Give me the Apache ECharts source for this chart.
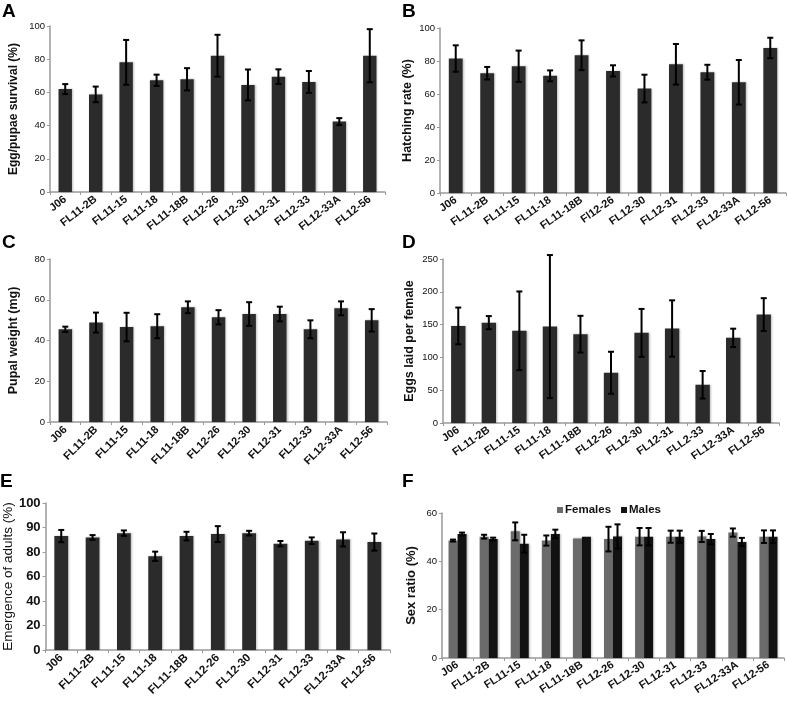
<!DOCTYPE html>
<html><head><meta charset="utf-8">
<script src="https://cdn.jsdelivr.net/npm/echarts@6/dist/echarts.min.js"></script>
<style>html,body{margin:0;padding:0;background:#fff}#c{width:787px;height:709px}</style>
</head><body><div id="c"></div>
<script>
const catsStd = ['J06','FL11-2B','FL11-15','FL11-18','FL11-18B','FL12-26','FL12-30','FL12-31','FL12-33','FL12-33A','FL12-56'];
const catsB = ['J06','FL11-2B','FL11-15','FL11-18','FL11-18B','Fl12-26','FL12-30','FL12-31','FL12-33','FL12-33A','FL12-56'];
const catsD = ['J06','FL11-2B','FL11-15','FL11-18','FL11-18B','FL12-26','FL12-30','FL12-31','FLL2-33','FL12-33A','FL12-56'];

const survMean = [62, 58.8, 78.1, 67.3, 67.9, 82.1, 64.5, 69.5, 66.3, 42.4, 82.1];
const survErr  = [3, 4.7, 13.5, 3.4, 6.7, 12.6, 9.3, 4.4, 6.6, 2.1, 16];
const hatchMean = [81.5, 72.6, 76.8, 71, 83.5, 74, 63.3, 78, 73.2, 67.1, 87.9];
const hatchErr  = [8, 3.8, 9.5, 3.3, 9, 3.4, 8.4, 12.3, 4.5, 13.5, 6.2];
const weightMean = [45.5, 48.8, 46.6, 47, 56.3, 51.4, 53, 53, 45.5, 55.8, 49.9];
const weightErr  = [1.3, 4.9, 7, 5.9, 2.9, 3.5, 5.8, 3.6, 4.4, 3.4, 5.5];
const eggsMean = [148, 153, 140.5, 147, 135.4, 76.6, 137.4, 144, 58.3, 129.8, 165.3];
const eggsErr  = [28, 10, 60, 109, 28, 32, 36.5, 43, 21, 14, 25];
const emergMean = [93, 91.9, 95.4, 76.5, 93, 94.6, 95.4, 86.8, 89.2, 90.3, 88.1];
const emergErr  = [5, 1.9, 2.2, 3.8, 3.5, 6.5, 1.9, 2.2, 2.7, 5.8, 7];
const emergTickLabels = ['0','20','40','60','80','90','100'];
const femMean = [48.6, 50.2, 52.4, 48.6, 49.5, 49.2, 50.2, 50.2, 50.3, 51.9, 50.2];
const femErr  = [0.4, 0.8, 3.7, 2.1, 0, 5.1, 3.6, 2.5, 2.3, 1.7, 2.6];
const maleMean = [51.3, 49.2, 47.3, 51.3, 50.2, 50.3, 50.2, 50.2, 49.2, 48, 50.2];
const maleErr  = [0.6, 0.6, 3.7, 1.8, 0, 5, 3.6, 2.5, 2.1, 1.7, 2.6];

const FONT = '"Liberation Sans", Arial, Helvetica, sans-serif';
const BAR = '#2b2b2b';
const AXC = '#9a9a9a';

const grids = [
  {left:50, top:26, width:335, height:166},
  {left:440, top:28, width:346, height:165},
  {left:50, top:259, width:337, height:163},
  {left:443, top:259, width:336, height:164},
  {left:42, top:503, width:348, height:147},
  {left:442, top:513, width:342, height:145}
];

function xAx(i, cats, rot, fs){
  return {type:'category', gridIndex:i, data:cats,
    axisLine:{lineStyle:{color:AXC, width:1.5}},
    axisTick:{show:true, alignWithLabel:false, length:3, lineStyle:{color:AXC}},
    axisLabel:{rotate:rot, interval:0, fontFamily:FONT, fontWeight:'bold', fontSize:fs, color:'#111', margin:6}};
}
function yAx(i, max, interval, name, gap, opts){
  opts = opts || {};
  return {type:'value', gridIndex:i, min:0, max:max, interval:interval,
    name:name, nameLocation:'middle', nameGap:gap,
    nameTextStyle:{fontFamily:FONT, fontWeight:opts.nameWeight||'bold', fontSize:opts.nameSize||12, color:'#111'},
    splitLine:{show:false},
    axisLine:{show:true, lineStyle:{color:AXC, width:1.5}},
    axisTick:{show:true, inside:false, length:3, lineStyle:{color:AXC}},
    axisLabel:Object.assign({fontFamily:FONT, fontSize:opts.labelSize||9.5, fontWeight:opts.labelWeight||'normal', color:'#111', margin:5}, opts.fmt?{formatter:opts.fmt}:{})};
}

function errRender(offsetFrac){
  return function(params, api){
    const x = api.value(0), m = api.value(1), e = api.value(2);
    if (!e) return null;
    const band = api.size([1,0])[0];
    const t = api.coord([x, m+e]);
    const b = api.coord([x, m-e]);
    const cx = t[0] + offsetFrac*band;
    const cap = 3;
    const st = {stroke:'#000', lineWidth:2};
    return {type:'group', children:[
      {type:'line', shape:{x1:cx, y1:t[1], x2:cx, y2:b[1]}, style:st},
      {type:'line', shape:{x1:cx-cap, y1:t[1], x2:cx+cap, y2:t[1]}, style:st},
      {type:'line', shape:{x1:cx-cap, y1:b[1], x2:cx+cap, y2:b[1]}, style:st}
    ]};
  };
}
function errData(mean, err){ return mean.map((m,i)=>[i, m, err[i]]); }
function barS(i, data, color, name, width){
  return {type:'bar', name:name, xAxisIndex:i, yAxisIndex:i, data:data, barWidth:width||'44%', barGap:'0%',
    itemStyle:{color:color, shadowColor:'rgba(0,0,0,0.25)', shadowBlur:2, shadowOffsetX:1, shadowOffsetY:0}};
}
function errS(i, mean, err, off){
  return {type:'custom', xAxisIndex:i, yAxisIndex:i, renderItem:errRender(off||0), data:errData(mean, err), z:5, encode:{x:0, y:1}};
}

const letterStyle = {fontFamily:FONT, fontWeight:'bold', fontSize:19, color:'#000'};
const option = {
  animation:false,
  title:[
    {text:'A', left:2, top:2, textStyle:letterStyle, padding:0},
    {text:'B', left:402, top:2, textStyle:letterStyle, padding:0},
    {text:'C', left:2, top:233, textStyle:letterStyle, padding:0},
    {text:'D', left:402, top:233, textStyle:letterStyle, padding:0},
    {text:'E', left:0, top:472, textStyle:letterStyle, padding:0},
    {text:'F', left:402, top:472, textStyle:letterStyle, padding:0}
  ],
  legend:{data:['Females','Males'], left:552, top:499, icon:'rect', itemWidth:6, itemHeight:6, itemGap:10,
    textStyle:{fontFamily:FONT, fontWeight:'bold', fontSize:11.5, color:'#111', padding:[0,0,0,-3]}},
  grid:grids,
  xAxis:[
    xAx(0, catsStd, 38, 11),
    xAx(1, catsB, 35, 11),
    xAx(2, catsStd, 45, 11),
    xAx(3, catsD, 35, 11),
    xAx(4, catsStd, 45, 11.5),
    xAx(5, catsStd, 33, 11)
  ],
  yAxis:[
    yAx(0, 100, 20, 'Egg/pupae survival (%)', 30),
    yAx(1, 100, 20, 'Hatching rate (%)', 26, {nameSize:12.5}),
    yAx(2, 80, 20, 'Pupal weight (mg)', 30, {nameSize:12.5}),
    yAx(3, 250, 50, 'Eggs laid per female', 27, {nameSize:12.5}),
    yAx(4, 120, 20, 'Emergence of adults (%)', 28, {nameWeight:'normal', nameSize:13.5, labelSize:13, labelWeight:'bold',
       fmt:function(v){ return emergTickLabels[Math.round(v/20)]; }}),
    yAx(5, 60, 20, 'Sex ratio (%)', 24, {nameSize:13})
  ],
  series:[
    barS(0, survMean, BAR), errS(0, survMean, survErr),
    barS(1, hatchMean, BAR), errS(1, hatchMean, hatchErr),
    barS(2, weightMean, BAR), errS(2, weightMean, weightErr),
    barS(3, eggsMean, BAR, null, '47%'), errS(3, eggsMean, eggsErr),
    barS(4, emergMean, BAR), errS(4, emergMean, emergErr),
    barS(5, femMean, '#6b6b6b', 'Females', '29%'), barS(5, maleMean, '#121212', 'Males', '29%'),
    errS(5, femMean, femErr, -0.145), errS(5, maleMean, maleErr, 0.145)
  ]
};
const chart = echarts.init(document.getElementById('c'), null, {renderer:'canvas'});
chart.setOption(option);
</script></body></html>
